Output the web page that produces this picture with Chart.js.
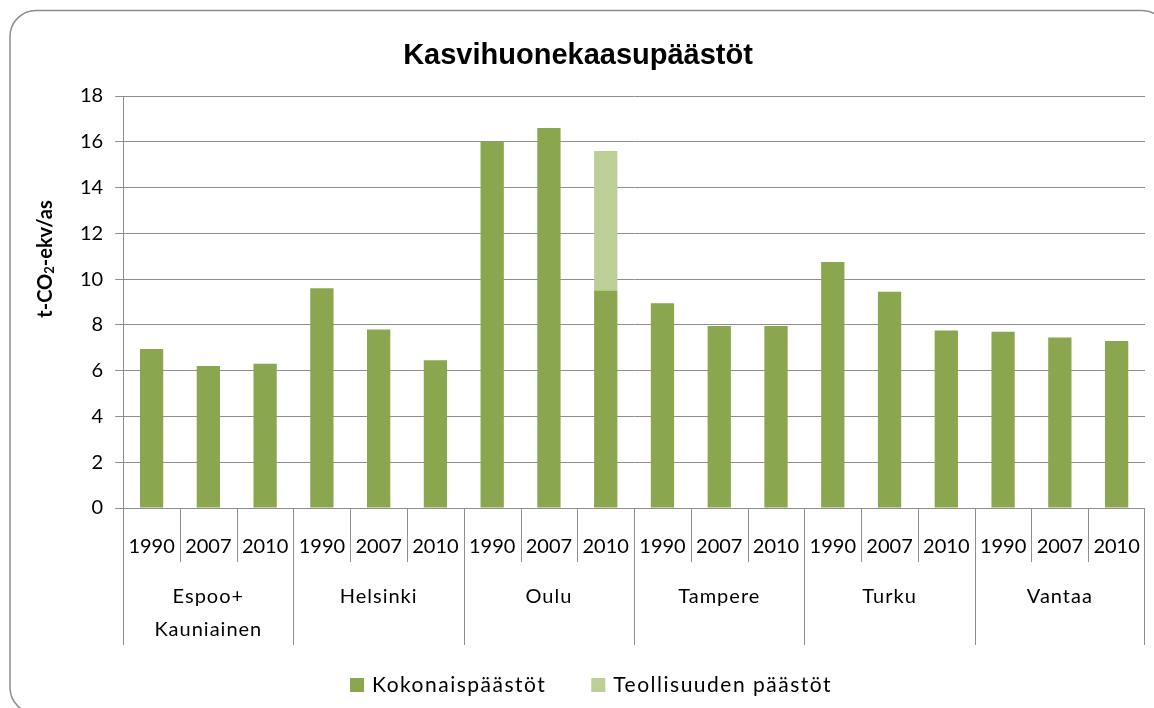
<!DOCTYPE html>
<html>
<head>
<meta charset="utf-8">
<script src="https://cdn.jsdelivr.net/npm/chart.js@4.4.1/dist/chart.umd.min.js"></script>
<style>
  html, body { margin: 0; padding: 0; background: #fff; }
  canvas { display: block; }
</style>
</head>
<body>
<canvas id="kaavio" width="1154" height="708"></canvas>
<script>
// Vuodet ja kaupungit (kaksitasoinen x-akseli)
const vuodet = ["1990", "2007", "2010"];
const kaupungit = [["Espoo+", "Kauniainen"], ["Helsinki"], ["Oulu"], ["Tampere"], ["Turku"], ["Vantaa"]];

// Päästöt t-CO2-ekv/asukas
const kokonaispaastot = [6.95, 6.2, 6.3, 9.6, 7.8, 6.45, 16.0, 16.6, 9.5, 8.95, 7.95, 7.95, 10.75, 9.45, 7.75, 7.7, 7.45, 7.3];
const teollisuudenPaastot = [null, null, null, null, null, null, null, null, 6.1, null, null, null, null, null, null, null, null, null];

const yTikit = [0, 2, 4, 6, 8, 10, 12, 14, 16, 18];

const otsikko = "Kasvihuonekaasupäästöt";
const tummaVihrea = "#8aa64f";
const vaaleaVihrea = "#bbcf97";
const viivaVari = "#8e8e8e";
const fontti = "Lato, 'Open Sans', sans-serif";

// Kategoriat: jokainen vuosi jokaiselle kaupungille
const kategoriat = [];
kaupungit.forEach(k => vuodet.forEach(v => kategoriat.push(k.join(" ") + " " + v)));

// Kehys ja otsikko
const kehysPlugin = {
    id: "kehys",
    beforeDraw(chart) {
        const ctx = chart.ctx;
        ctx.save();
        ctx.fillStyle = "#fff";
        ctx.fillRect(0, 0, chart.width, chart.height);
        ctx.strokeStyle = "#8c8c8c";
        ctx.lineWidth = 1.5;
        ctx.beginPath();
        ctx.roundRect(10, 10.5, 1158, 703, 26);
        ctx.stroke();

        ctx.fillStyle = "#000";
        ctx.font = "bold 29px 'Liberation Sans', Arial, sans-serif";
        ctx.textAlign = "center";
        ctx.textBaseline = "middle";
        ctx.fillText(otsikko, chart.width / 2 + 1, 56);
        ctx.restore();
    }
};

// Kaksitasoiset x-akselin otsikot, y-akselin otsikko ja selite
const akseliPlugin = {
    id: "akselit",
    afterDraw(chart) {
        const ctx = chart.ctx;
        const x = chart.scales.x;
        const alue = chart.chartArea;
        const leveys = x.getPixelForValue(1) - x.getPixelForValue(0);
        const pohja = alue.bottom;

        ctx.save();
        ctx.strokeStyle = viivaVari;
        ctx.lineWidth = 1;
        ctx.fillStyle = "#000";
        ctx.font = "20px " + fontti;
        ctx.textAlign = "center";
        ctx.textBaseline = "middle";

        kategoriat.forEach((_, i) => {
            const keski = x.getPixelForValue(i);
            const vasen = Math.round(keski - leveys / 2) + 0.5;
            const ryhmanRaja = i % vuodet.length === 0;
            ctx.beginPath();
            ctx.moveTo(vasen, pohja);
            ctx.lineTo(vasen, pohja + (ryhmanRaja ? 137 : 54));
            ctx.stroke();
            ctx.fillText(vuodet[i % vuodet.length], keski, pohja + 39);
        });
        const oikea = Math.round(x.getPixelForValue(kategoriat.length - 1) + leveys / 2) - 0.5;
        ctx.beginPath();
        ctx.moveTo(oikea, pohja);
        ctx.lineTo(oikea, pohja + 137);
        ctx.stroke();

        ctx.letterSpacing = "1px";
        kaupungit.forEach((rivit, g) => {
            const keski = (x.getPixelForValue(g * 3) + x.getPixelForValue(g * 3 + 2)) / 2;
            rivit.forEach((teksti, r) => {
                ctx.fillText(teksti, keski, pohja + 89 + r * 33);
            });
        });

        // Selite
        ctx.font = "21px " + fontti;
        ctx.letterSpacing = "1.5px";
        ctx.textAlign = "left";
        const selitteet = chart.data.datasets.map(d => ({ teksti: d.label, vari: d.backgroundColor }));
        const laatikko = 14, vali = 8, rako = 45;
        const leveydet = selitteet.map(s => laatikko + vali + ctx.measureText(s.teksti).width);
        const yhteensa = leveydet.reduce((a, b) => a + b, 0) + rako * (selitteet.length - 1);
        let sx = 591 - yhteensa / 2;
        const sy = 685;
        selitteet.forEach((s, i) => {
            ctx.fillStyle = s.vari;
            ctx.fillRect(sx, sy - laatikko / 2, laatikko, laatikko);
            ctx.fillStyle = "#000";
            ctx.fillText(s.teksti, sx + laatikko + vali, sy);
            sx += leveydet[i] + rako;
        });
        ctx.letterSpacing = "0px";

        // y-akselin otsikko: t-CO₂-ekv/as
        ctx.translate(46, 259);
        ctx.rotate(-Math.PI / 2);
        ctx.textAlign = "left";
        ctx.textBaseline = "middle";
        const iso = "bold 20px " + fontti;
        const pieni = "bold 13px " + fontti;
        ctx.font = iso;
        const osa1 = "t-CO", osa3 = "-ekv/as";
        const w1 = ctx.measureText(osa1).width;
        const w3 = ctx.measureText(osa3).width;
        ctx.font = pieni;
        const w2 = ctx.measureText("2").width;
        let xx = -(w1 + w2 + w3) / 2;
        ctx.font = iso;
        ctx.fillText(osa1, xx, 0);
        xx += w1;
        ctx.font = pieni;
        ctx.fillText("2", xx, 4);
        xx += w2;
        ctx.font = iso;
        ctx.fillText(osa3, xx, 0);
        ctx.restore();
    }
};

new Chart(document.getElementById("kaavio"), {
    type: "bar",
    data: {
        labels: kategoriat,
        datasets: [
            {
                label: "Kokonaispäästöt",
                data: kokonaispaastot,
                backgroundColor: tummaVihrea,
                barPercentage: 0.41,
                categoryPercentage: 1.0
            },
            {
                label: "Teollisuuden päästöt",
                data: teollisuudenPaastot,
                backgroundColor: vaaleaVihrea,
                barPercentage: 0.41,
                categoryPercentage: 1.0
            }
        ]
    },
    options: {
        responsive: false,
        animation: false,
        layout: { padding: { left: 68, right: 9, top: 96, bottom: 200 } },
        plugins: {
            title: { display: false },
            legend: { display: false },
            tooltip: { enabled: false }
        },
        scales: {
            x: {
                stacked: true,
                ticks: { display: false },
                grid: { display: false },
                border: { display: false },
                afterFit(scale) { scale.height = 0; }
            },
            y: {
                stacked: true,
                min: 0,
                max: 18,
                afterBuildTicks(scale) { scale.ticks = yTikit.map(v => ({ value: v })); },
                ticks: {
                    color: "#000",
                    padding: 12,
                    font: { family: fontti, size: 20 }
                },
                grid: {
                    color: viivaVari,
                    lineWidth: 1,
                    tickLength: 8,
                    drawTicks: true
                },
                border: { display: true, color: viivaVari, width: 1 }
            }
        }
    },
    plugins: [kehysPlugin, akseliPlugin]
});
</script>
</body>
</html>
